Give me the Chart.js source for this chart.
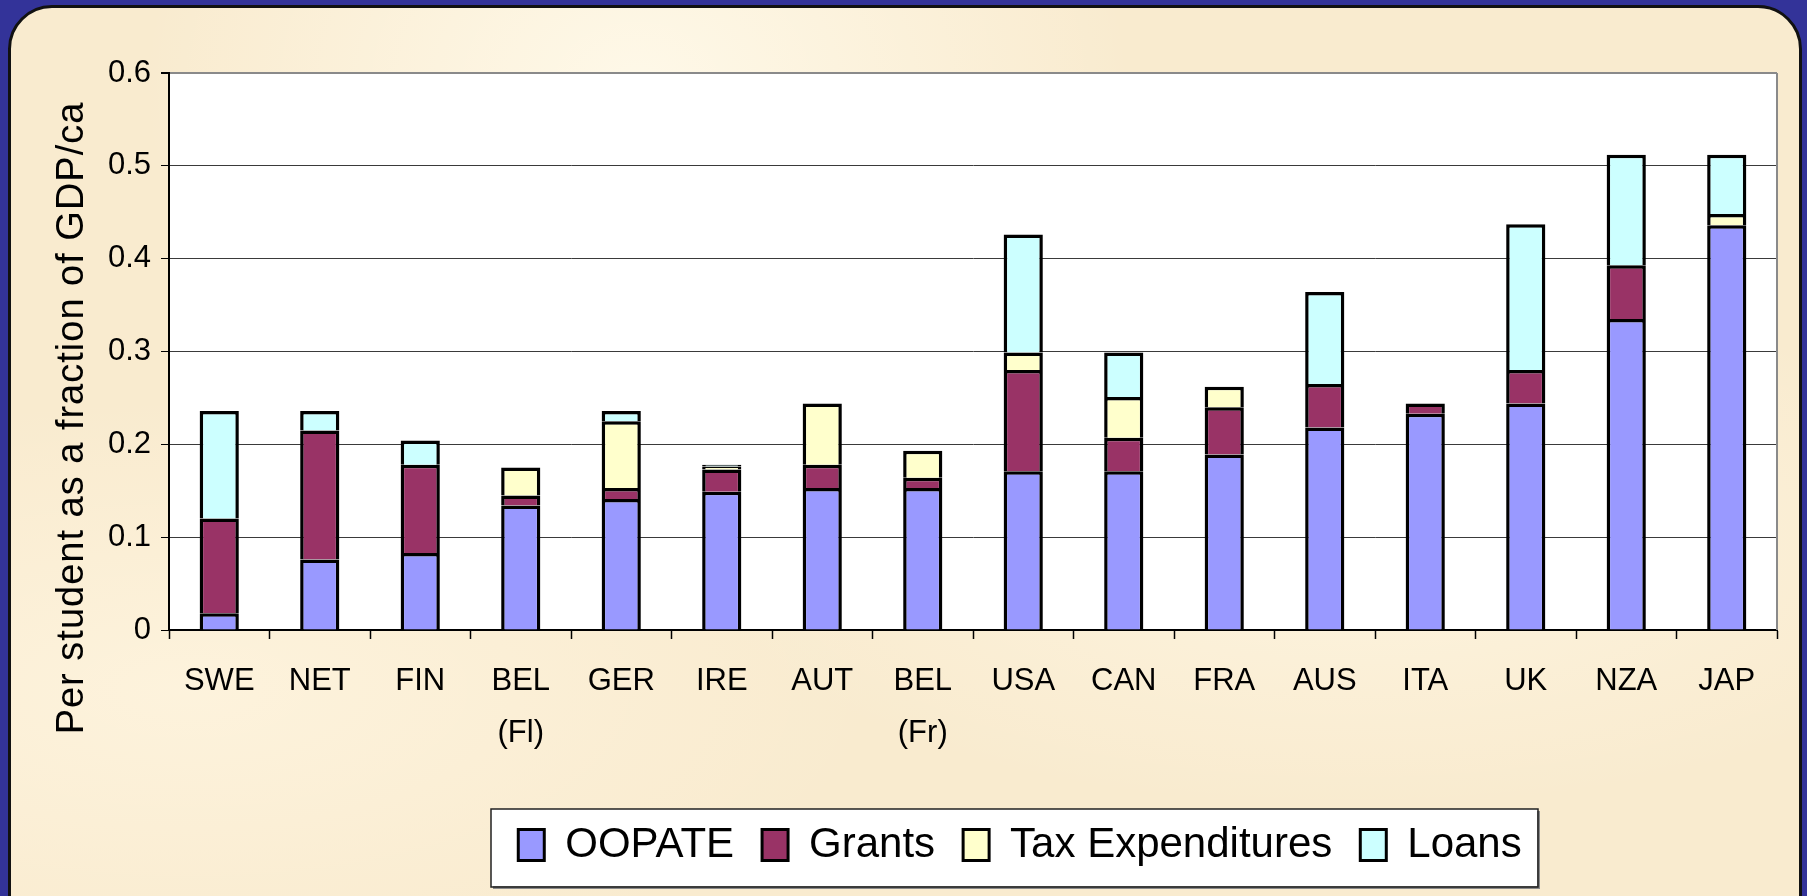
<!DOCTYPE html>
<html>
<head>
<meta charset="utf-8">
<title>Student support per student as a fraction of GDP/ca</title>
<script src="https://cdn.jsdelivr.net/npm/chart.js@4.4.0/dist/chart.umd.min.js"></script>
<style>
  html, body { margin: 0; padding: 0; width: 1807px; height: 896px; overflow: hidden; background: #333399; }
  #panel {
    position: absolute; left: 8px; top: 5px; width: 1794px; height: 980px;
    box-sizing: border-box; border: 3px solid #111; border-radius: 44px;
    background:
      radial-gradient(ellipse at 35% 8%, rgba(255,250,235,0.9) 0%, rgba(255,250,235,0) 30%),
      radial-gradient(ellipse at 75% 55%, rgba(255,248,230,0.7) 0%, rgba(255,248,230,0) 35%),
      radial-gradient(ellipse at 10% 70%, rgba(255,246,226,0.7) 0%, rgba(255,246,226,0) 30%),
      #f9ebcf;
  }
  #wrap { position: absolute; left: 0; top: 0; width: 1807px; height: 896px; }
</style>
</head>
<body>
<div id="panel"></div>
<div id="wrap"><canvas id="chart"></canvas></div>
<script>
// Countries (x categories)
const countries = ['SWE', 'NET', 'FIN', ['BEL', '(Fl)'], 'GER', 'IRE', 'AUT', ['BEL', '(Fr)'],
                   'USA', 'CAN', 'FRA', 'AUS', 'ITA', 'UK', 'NZA', 'JAP'];

// Stacked components, per student as a fraction of GDP/ca (null = no component)
const oopate  = [0.018, 0.076, 0.083, 0.134, 0.141, 0.149, 0.153, 0.153, 0.171, 0.171, 0.189, 0.218, 0.233, 0.244, 0.335, 0.436];
const grants  = [0.102, 0.139, 0.095, 0.011, 0.012, 0.024, 0.025, 0.011, 0.109, 0.036, 0.051, 0.047, 0.011, 0.036, 0.058, null];
const taxExp  = [null,  null,  null,  0.030, 0.072, 0.003, 0.066, 0.029, 0.019, 0.044, 0.022, null,  null,  null,  null,  0.012];
const loans   = [0.116, 0.021, 0.026, null,  0.011, 0.002, null,  null,  0.127, 0.048, null,  0.099, null,  0.157, 0.119, 0.064];

const seriesNames = ['OOPATE', 'Grants', 'Tax Expenditures', 'Loans'];
const yTickLabels = ['0', '0.1', '0.2', '0.3', '0.4', '0.5', '0.6'];
const yTitle = 'Per student as a fraction of GDP/ca';

const sans = "'Liberation Sans', Arial, sans-serif";

// white plot area with grey frame on the right
const plotFrame = {
    id: 'plotFrame',
    beforeDraw(chart) {
        const { ctx, chartArea: a } = chart;
        ctx.save();
        ctx.fillStyle = '#ffffff';
        ctx.fillRect(a.left, a.top, a.right - a.left, a.bottom - a.top);
        ctx.restore();
    },
    beforeDatasetsDraw(chart) {
        const { ctx, chartArea: a } = chart;
        ctx.save();
        ctx.strokeStyle = '#8a8a8a';
        ctx.lineWidth = 2;
        ctx.beginPath();
        ctx.moveTo(a.right, a.top);
        ctx.lineTo(a.right, a.bottom);
        ctx.stroke();
        ctx.restore();
    }
};

// legend sits in a white box, shifted right like the original
const legendFrame = {
    id: 'legendFrame',
    beforeDraw(chart) {
        const lg = chart.legend;
        if (!lg || !lg.lineWidths) return;
        const p = lg.options.labels.padding;
        lg.left = 233;
        lg.right = 1807;
        lg.width = lg.right - lg.left;
        lg.top = 824 - p;
        const lw = lg.lineWidths[0];
        const x0 = (lg.left + p + lg.right - lw) / 2;
        const x1 = x0 + lw - p;
        const bx = Math.round(x0 - 27), by = 809;
        const bw = Math.round(x1 - x0 + 44), bh = 78;
        const ctx = chart.ctx;
        ctx.save();
        ctx.fillStyle = '#ffffff';
        ctx.fillRect(bx, by, bw, bh);
        ctx.strokeStyle = '#8a8a8a';
        ctx.lineWidth = 3;
        ctx.beginPath();
        ctx.moveTo(bx + bw + 0.5, by + 2);
        ctx.lineTo(bx + bw + 0.5, by + bh + 0.5);
        ctx.lineTo(bx + 2, by + bh + 0.5);
        ctx.stroke();
        ctx.strokeStyle = '#222';
        ctx.lineWidth = 1.5;
        ctx.strokeRect(bx, by, bw, bh);
        ctx.restore();
    }
};

// rotated axis title, placed lower than centre as in the original
const yTitlePlugin = {
    id: 'yTitle',
    afterDraw(chart) {
        const ctx = chart.ctx;
        ctx.save();
        ctx.translate(73, 418);
        ctx.rotate(-Math.PI / 2);
        ctx.font = '38px ' + sans;
        if ('letterSpacing' in ctx) ctx.letterSpacing = '1px';
        ctx.fillStyle = '#000';
        ctx.textAlign = 'center';
        ctx.textBaseline = 'middle';
        ctx.fillText(yTitle, 0, 0);
        ctx.restore();
    }
};

const colors = ['#9999ff', '#993366', '#ffffcc', '#ccffff'];
const seriesData = [oopate, grants, taxExp, loans];

const datasets = seriesNames.map((name, i) => ({
    label: name,
    data: seriesData[i],
    backgroundColor: colors[i],
    borderColor: '#000000',
    borderWidth: 3.5,
    borderSkipped: 'start',
    inflateAmount: 0,
    barPercentage: 0.39,
    categoryPercentage: 1.0
}));

new Chart(document.getElementById('chart'), {
    type: 'bar',
    data: { labels: countries, datasets: datasets },
    plugins: [plotFrame, legendFrame, yTitlePlugin],
    options: {
        responsive: true,
        maintainAspectRatio: false,
        animation: false,
        layout: { padding: { left: 0, right: 30, top: 73, bottom: 0 } },
        plugins: {
            tooltip: { enabled: false },
            legend: {
                position: 'bottom',
                labels: {
                    boxWidth: 26,
                    boxHeight: 31,
                    padding: 28,
                    color: '#000',
                    font: { family: sans, size: 42 },
                    generateLabels(chart) {
                        return chart.data.datasets.map((ds, i) => ({
                            text: ds.label,
                            fillStyle: ds.backgroundColor,
                            strokeStyle: '#000',
                            lineWidth: 3,
                            hidden: false,
                            datasetIndex: i
                        }));
                    }
                }
            }
        },
        scales: {
            x: {
                stacked: true,
                // room for the two-line labels; the legend takes the rest
                afterFit(scale) { scale.height = 896 - 630 - scale.chart.legend.height; },
                grid: {
                    offset: true,
                    drawOnChartArea: false,
                    drawTicks: true,
                    tickLength: 9,
                    tickColor: '#000',
                    tickWidth: 1.5
                },
                border: { display: true, color: '#000', width: 2 },
                ticks: {
                    color: '#000',
                    padding: 16,
                    maxRotation: 0,
                    autoSkip: false,
                    font: { family: sans, size: 31, lineHeight: 1.68 }
                }
            },
            y: {
                stacked: true,
                min: 0,
                max: 0.6,
                afterFit(scale) { scale.width = 169; },
                grid: {
                    color: ctx => (ctx.tick && ctx.tick.value >= 0.6 ? '#8a8a8a' : '#3a3a3a'),
                    lineWidth: ctx => (ctx.tick && ctx.tick.value >= 0.6 ? 2 : 1),
                    tickLength: 8,
                    tickColor: '#000'
                },
                border: { display: true, color: '#000', width: 2 },
                ticks: {
                    stepSize: 0.1,
                    padding: 10,
                    color: '#000',
                    font: { family: sans, size: 31 },
                    callback: (value, index) => yTickLabels[index]
                }
            }
        }
    }
});
</script>
</body>
</html>
